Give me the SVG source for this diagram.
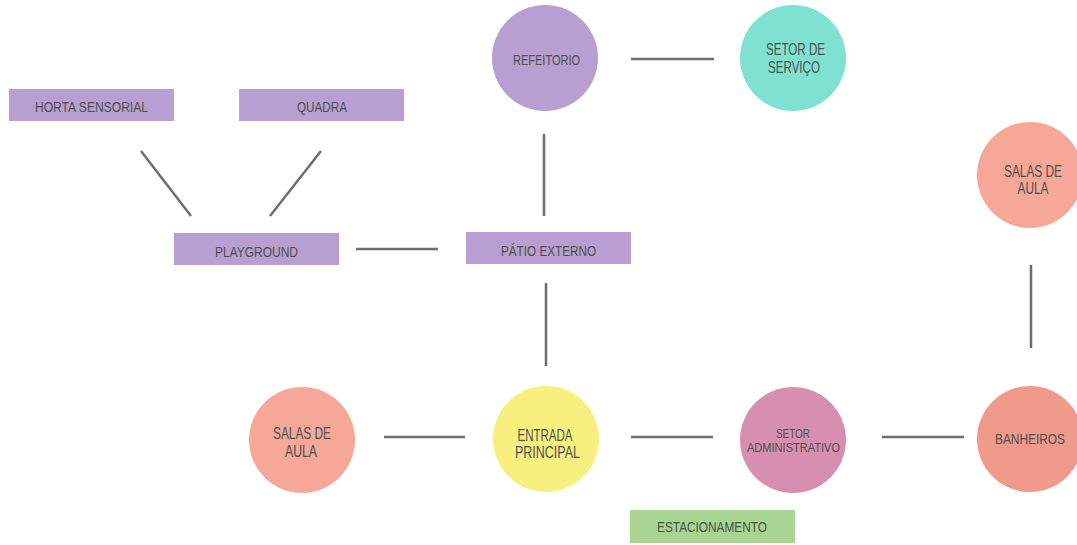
<svg xmlns="http://www.w3.org/2000/svg" width="1077" height="545" viewBox="0 0 1077 545">
<style>
.bg{fill:#ffffff}
.purple{fill:#b99fd1}
.teal{fill:#7fe1d2}
.salmon{fill:#f5a898}
.yellow{fill:#f8f07e}
.pink{fill:#d68fb0}
.coral{fill:#ef9a8a}
.green{fill:#a8d592}
.lbl{font-family:"Liberation Sans",Arial,sans-serif;fill:#4f4f4f;text-anchor:middle}
.s15{font-size:15px}
.s18{font-size:16px}
.s14{font-size:13px}
.conn line{stroke:#6e6e6e;stroke-width:2.5;stroke-linecap:butt}
</style>
<rect class="bg" x="0" y="0" width="1077" height="545"/>
<g id="connectors" class="conn">
<line x1="141" y1="151" x2="191" y2="216"/>
<line x1="321" y1="151" x2="270" y2="216"/>
<line x1="356" y1="249" x2="438" y2="249"/>
<line x1="544" y1="134" x2="544" y2="216"/>
<line x1="631" y1="59" x2="714" y2="59"/>
<line x1="546" y1="283" x2="546" y2="366"/>
<line x1="384" y1="437" x2="465" y2="437"/>
<line x1="631" y1="437" x2="713" y2="437"/>
<line x1="882" y1="437" x2="964" y2="437"/>
<line x1="1031" y1="265" x2="1031" y2="348"/>
</g>
<g id="horta-sensorial">
<rect class="purple" x="9" y="89" width="165" height="32"/>
<text class="lbl s15" x="91.5" y="112" textLength="113" lengthAdjust="spacingAndGlyphs">HORTA SENSORIAL</text>
</g>
<g id="quadra">
<rect class="purple" x="239" y="89" width="165" height="32"/>
<text class="lbl s15" x="322" y="112" textLength="50" lengthAdjust="spacingAndGlyphs">QUADRA</text>
</g>
<g id="playground">
<rect class="purple" x="174" y="233" width="165" height="32"/>
<text class="lbl s15" x="256.5" y="257" textLength="83" lengthAdjust="spacingAndGlyphs">PLAYGROUND</text>
</g>
<g id="patio-externo">
<rect class="purple" x="466" y="232" width="165" height="32"/>
<text class="lbl s15" x="548.5" y="256" textLength="95" lengthAdjust="spacingAndGlyphs">PÁTIO EXTERNO</text>
</g>
<g id="refeitorio">
<circle class="purple" cx="545" cy="58" r="53"/>
<text class="lbl s15" x="546.5" y="65" textLength="67" lengthAdjust="spacingAndGlyphs">REFEITORIO</text>
</g>
<g id="setor-servico">
<circle class="teal" cx="793" cy="58" r="53"/>
<text class="lbl s18" x="795.5" y="55" textLength="59" lengthAdjust="spacingAndGlyphs">SETOR DE</text>
<text class="lbl s18" x="794" y="73" textLength="52" lengthAdjust="spacingAndGlyphs">SERVIÇO</text>
</g>
<g id="salas-aula-direita">
<circle class="salmon" cx="1030" cy="175" r="53"/>
<text class="lbl s18" x="1033" y="177" textLength="58" lengthAdjust="spacingAndGlyphs">SALAS DE</text>
<text class="lbl s18" x="1033" y="194" textLength="31" lengthAdjust="spacingAndGlyphs">AULA</text>
</g>
<g id="banheiros">
<circle class="coral" cx="1030" cy="439" r="53"/>
<text class="lbl s15" x="1030" y="444" textLength="70" lengthAdjust="spacingAndGlyphs">BANHEIROS</text>
</g>
<g id="setor-administrativo">
<circle class="pink" cx="793" cy="440" r="53"/>
<text class="lbl s14" x="793" y="438" textLength="34" lengthAdjust="spacingAndGlyphs">SETOR</text>
<text class="lbl s14" x="793.5" y="452" textLength="93" lengthAdjust="spacingAndGlyphs">ADMINISTRATIVO</text>
</g>
<g id="entrada-principal">
<circle class="yellow" cx="546" cy="439" r="53"/>
<text class="lbl s18" x="545" y="441" textLength="55" lengthAdjust="spacingAndGlyphs">ENTRADA</text>
<text class="lbl s18" x="547.5" y="458" textLength="65" lengthAdjust="spacingAndGlyphs">PRINCIPAL</text>
</g>
<g id="salas-aula-esquerda">
<circle class="salmon" cx="302" cy="440" r="53"/>
<text class="lbl s18" x="302" y="439" textLength="58" lengthAdjust="spacingAndGlyphs">SALAS DE</text>
<text class="lbl s18" x="301" y="457" textLength="32" lengthAdjust="spacingAndGlyphs">AULA</text>
</g>
<g id="estacionamento">
<rect class="green" x="630" y="510" width="165" height="33"/>
<text class="lbl s15" x="712" y="532" textLength="110" lengthAdjust="spacingAndGlyphs">ESTACIONAMENTO</text>
</g>
</svg>
